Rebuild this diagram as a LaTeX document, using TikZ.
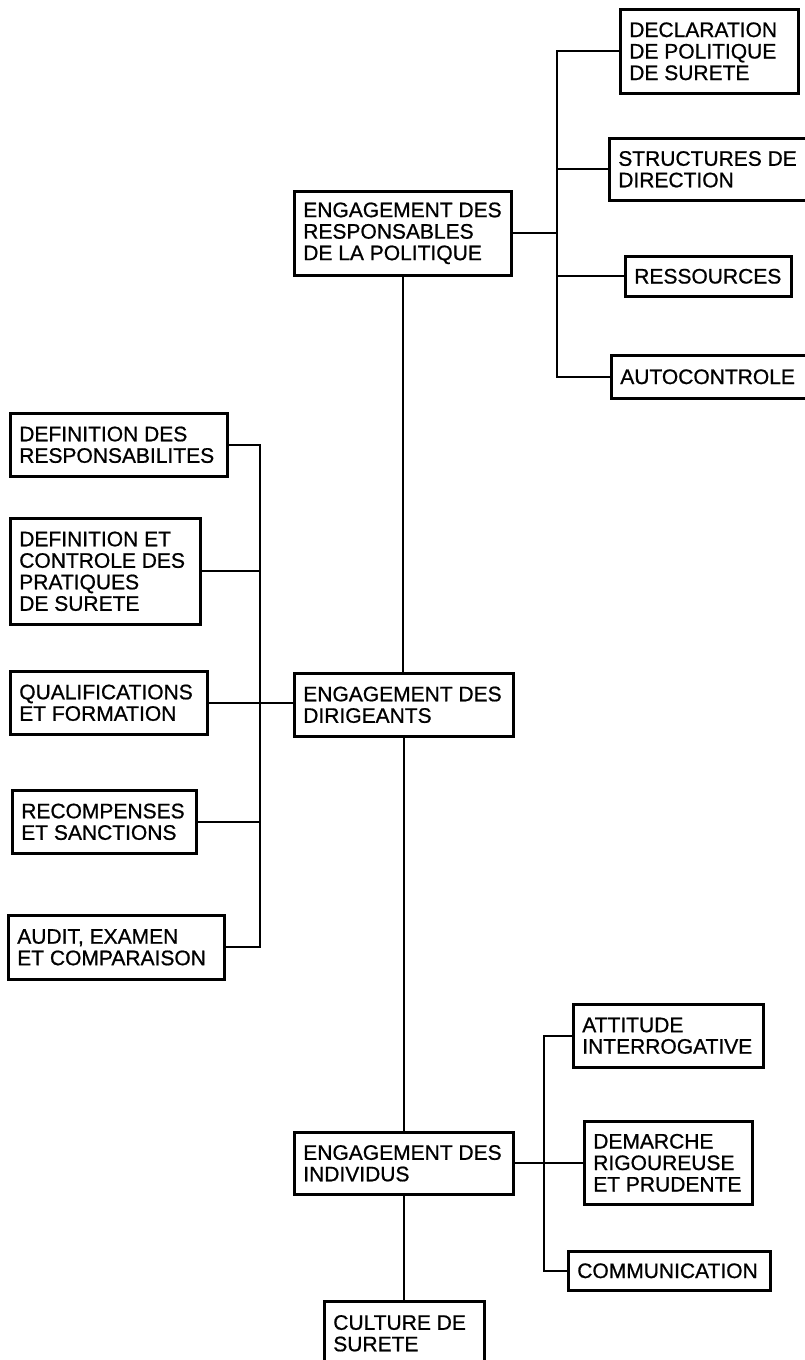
\documentclass[tikz,border=0pt]{standalone}
\usepackage{fontspec}
\setmainfont{Liberation Sans}[FakeBold=0.8]
\usetikzlibrary{positioning,calc}

\begin{document}
\begin{tikzpicture}[x=1pt,y=-1pt,
  bloc/.style={draw,line width=2.6pt,anchor=north west,align=flush left,inner xsep=9pt,inner ysep=0pt,font=\fontsize{21}{21.5}\selectfont},
  lien/.style={line width=2pt}]
  \useasboundingbox (0,0) rectangle (804,1360);

  \node[bloc,text width=199pt,minimum height=84pt] (resp) at (293,190) {ENGAGEMENT DES\\RESPONSABLES\\DE LA POLITIQUE};
  \node[bloc,text width=160pt,minimum height=84pt] (decl) at (619,8) {DECLARATION\\DE POLITIQUE\\DE SURETE};
  \node[bloc,text width=204pt,minimum height=62pt] (struct) at (608,137) {STRUCTURES DE\\DIRECTION};
  \node[bloc,text width=148pt,minimum height=40pt] (ress) at (624,255) {RESSOURCES};
  \node[bloc,text width=202pt,minimum height=43pt] (autoc) at (610,354) {AUTOCONTROLE};

  \node[bloc,text width=201pt,minimum height=63pt] (dirig) at (293,672) {ENGAGEMENT DES\\DIRIGEANTS};
  \node[bloc,text width=199pt,minimum height=63pt] (defresp) at (9,412) {DEFINITION DES\\RESPONSABILITES};
  \node[bloc,text width=172pt,minimum height=106pt] (defctrl) at (9,517) {DEFINITION ET\\CONTROLE DES\\PRATIQUES\\DE SURETE};
  \node[bloc,text width=179pt,minimum height=63pt] (qualif) at (9,670) {QUALIFICATIONS\\ET FORMATION};
  \node[bloc,text width=166pt,minimum height=63pt] (recomp) at (11,789) {RECOMPENSES\\ET SANCTIONS};
  \node[bloc,text width=198pt,minimum height=64pt] (audit) at (7,914) {AUDIT, EXAMEN\\ET COMPARAISON};

  \node[bloc,text width=201pt,minimum height=62pt] (indiv) at (293,1131) {ENGAGEMENT DES\\INDIVIDUS};
  \node[bloc,text width=172pt,minimum height=63pt] (attit) at (572,1003) {ATTITUDE\\INTERROGATIVE};
  \node[bloc,text width=150pt,minimum height=83pt] (demarche) at (583,1120) {DEMARCHE\\RIGOUREUSE\\ET PRUDENTE};
  \node[bloc,text width=184pt,minimum height=39pt] (commun) at (567,1250) {COMMUNICATION};
  \node[bloc,text width=142pt,minimum height=64pt] (culture) at (323,1300) {CULTURE DE\\SURETE};

  \coordinate (tr) at (557,0);
  \coordinate (tl) at (260,0);
  \coordinate (tb) at (544,0);

  \draw[lien] (decl.west) -- (tr |- decl.west) -- (tr |- autoc.west) -- (autoc.west);
  \draw[lien] (struct.west) -- (tr |- struct.west);
  \draw[lien] (ress.west) -- (tr |- ress.west);
  \draw[lien] (resp.east) -- (tr |- resp.east);

  \draw[lien] (resp.south) -- (resp.south |- dirig.north);
  \draw[lien] (dirig.south) -- (dirig.south |- indiv.north);
  \draw[lien] (indiv.south) -- (indiv.south |- culture.north);

  \draw[lien] (defresp.east) -- (tl |- defresp.east) -- (tl |- audit.east) -- (audit.east);
  \draw[lien] (defctrl.east) -- (tl |- defctrl.east);
  \draw[lien] (qualif.east) -- (qualif.east -| dirig.west);
  \draw[lien] (recomp.east) -- (tl |- recomp.east);

  \draw[lien] (attit.west) -- (tb |- attit.west) -- (tb |- commun.west) -- (commun.west);
  \draw[lien] (indiv.east) -- (demarche.west |- indiv.east);
\end{tikzpicture}
\end{document}
